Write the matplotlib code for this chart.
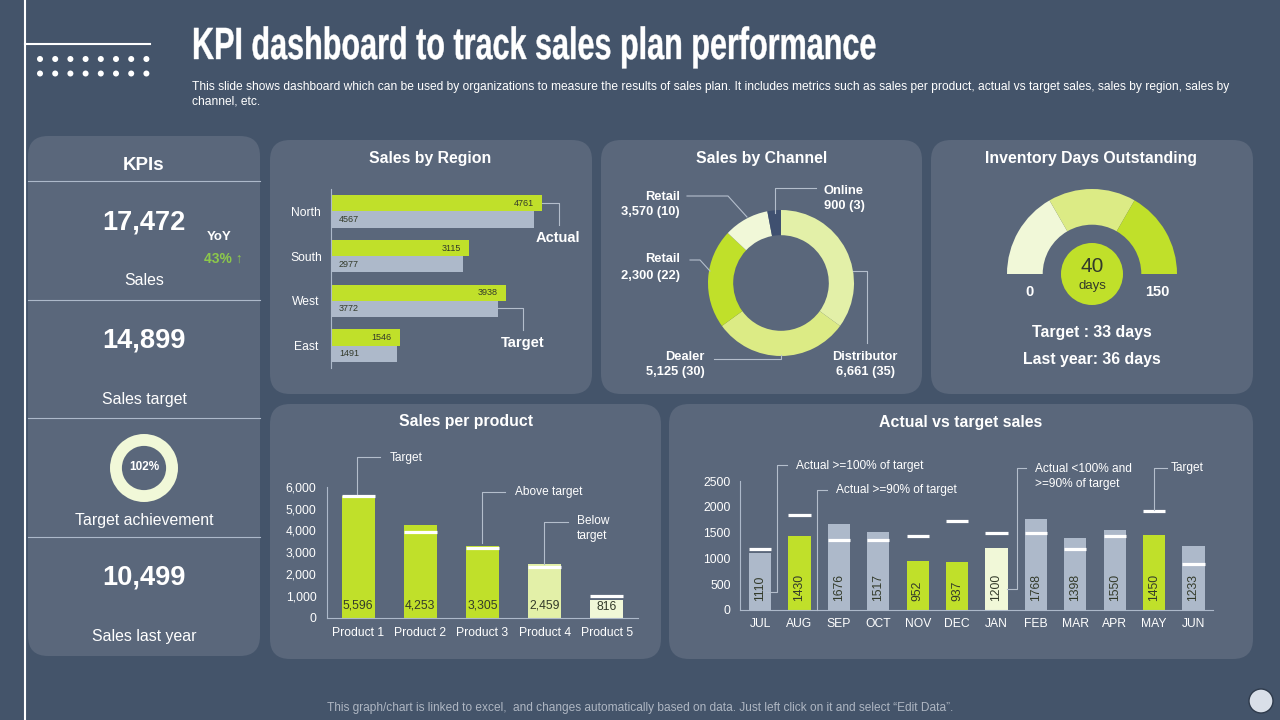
#!/usr/bin/env python3
"""KPI dashboard slide, laid out on a 1280x720 pixel canvas."""

import matplotlib
matplotlib.use("Agg")
import matplotlib.pyplot as plt
from matplotlib.patches import FancyBboxPatch, Circle
from matplotlib.patheffects import AbstractPathEffect
from matplotlib.transforms import Affine2D

BG = "#44546A"
PANEL = "#5A677B"
GREEN = "#C0E02A"
LIME = "#DCEB85"
PALE = "#E3F0A8"
CREAM = "#F1F8D8"
GREY = "#ADB9CA"
LEADER = "#B4BECC"
DARK = "#333A2A"

regions = ["North", "South", "West", "East"]
region_actual = [4761, 3115, 3938, 1546]
region_target = [4567, 2977, 3772, 1491]

channel_shares = [35, 30, 22, 10, 3]
channel_colors = [PALE, LIME, GREEN, CREAM, "#3F5070"]

gauge_segments = [50, 50, 50]

products = ["Product 1", "Product 2", "Product 3", "Product 4", "Product 5"]
product_sales = [5596, 4253, 3305, 2459, 816]
product_target = [5590, 3935, 3215, 2330, 995]
product_colors = [GREEN, GREEN, GREEN, PALE, CREAM]

months = ["JUL", "AUG", "SEP", "OCT", "NOV", "DEC", "JAN", "FEB", "MAR", "APR", "MAY", "JUN"]
month_actual = [1110, 1430, 1676, 1517, 952, 937, 1200, 1768, 1398, 1550, 1450, 1233]
month_target = [1182, 1835, 1350, 1350, 1434, 1725, 1486, 1486, 1176, 1428, 1912, 900]
month_colors = [GREY, GREEN, GREY, GREY, GREEN, GREEN, CREAM, GREY, GREY, GREY, GREEN, GREY]

plt.rcParams["font.family"] = ["Liberation Sans", "DejaVu Sans"]

fig = plt.figure(figsize=(12.8, 7.2), dpi=100, facecolor=BG)


class Squeeze(AbstractPathEffect):
    """Narrow a text horizontally around a pixel x, no condensed display font is installed."""

    def __init__(self, x0, factor, stroke):
        super().__init__()
        self.x0 = x0
        self.factor = factor
        self.stroke = stroke

    def draw_path(self, renderer, gc, tpath, affine, rgbFace=None):
        squeeze = Affine2D().translate(-self.x0, 0).scale(self.factor, 1).translate(self.x0, 0)
        gc0 = renderer.new_gc()
        gc0.copy_properties(gc)
        gc0.set_linewidth(self.stroke)
        gc0.set_foreground(rgbFace)
        renderer.draw_path(gc0, tpath, affine + squeeze, rgbFace)
        gc0.restore()


def px_axes(left, top, width, height, zorder=1):
    """Axes placed by pixel box, y counted from the top of the slide."""
    ax = fig.add_axes((left / 1280, 1 - (top + height) / 720, width / 1280, height / 720), zorder=zorder)
    ax.patch.set_alpha(0)
    return ax


def canvas_axes(zorder):
    ax = px_axes(0, 0, 1280, 720, zorder)
    ax.set_xlim(0, 1280)
    ax.set_ylim(720, 0)
    ax.axis("off")
    return ax


def open_axes(ax):
    ax.spines["top"].set_color("none")
    ax.spines["right"].set_color("none")
    ax.spines["left"].set_color(GREY)
    ax.spines["bottom"].set_color(GREY)
    ax.tick_params(length=0, colors="white", labelsize=8.7)


def ring_axes(cx, cy, r):
    ax = px_axes(cx - r, cy - r, 2 * r, 2 * r)
    return ax


back = canvas_axes(0)
top = canvas_axes(5)


def put(x, y, label, size, color="white", weight="normal", ha="center"):
    # va=center sits a little high against the slide text
    return top.text(x, y + 1.5, label, color=color, fontsize=size, fontweight=weight, ha=ha, va="center")


# slide furniture
back.plot([25, 25], [0, 720], color="white", lw=1.5)
back.plot([25, 150], [43.5, 43.5], color="white", lw=1.5)
for row_y in (59, 73.5):
    for i in range(8):
        back.add_patch(Circle((40 + i * 15.2, row_y), 3, color="white", lw=0))

title = put(192, 46, "KPI dashboard to track sales plan performance", 32.5, weight="bold", ha="left")
title.set_path_effects([Squeeze(192, 0.677, 0.3)])
put(192, 85.5, "This slide shows dashboard which can be used by organizations to measure the results of sales plan. "
    "It includes metrics such as sales per product, actual vs target sales, sales by region, sales by", 8.65, ha="left")
put(192, 99.5, "channel, etc.", 8.65, ha="left")
put(640, 706.5, "This graph/chart is linked to excel,  and changes automatically based on data. "
    "Just left click on it and select “Edit Data”.", 8.6, color="#AEB6C2")
back.add_patch(Circle((1261, 701), 12, facecolor="#D9DFE8", edgecolor="#2F3B4C", lw=1))

# panels
panels = [(28, 136, 232, 520), (270, 140, 322, 254), (601, 140, 321, 254), (931, 140, 322, 254),
          (270, 404, 391, 255), (669, 404, 584, 255)]
for x, y, w, h in panels:
    back.add_patch(FancyBboxPatch((x + 20, y + 20), w - 40, h - 40, boxstyle="round,pad=20,rounding_size=20",
                                  facecolor=PANEL, edgecolor="none"))

panel_titles = [(430, 157, "Sales by Region"), (762, 157, "Sales by Channel"),
                (1091, 157, "Inventory Days Outstanding"), (466, 420, "Sales per product"),
                (961, 421, "Actual vs target sales")]
for x, y, label in panel_titles:
    put(x, y, label, 11.45, weight="bold")

# KPI column
for y in (181, 300, 418, 537):
    back.plot([28, 260], [y, y], color=GREY, lw=0.8)
put(144, 164, "KPIs", 13.5, weight="bold")
for y, label in ((221, "17,472"), (339, "14,899"), (576, "10,499")):
    put(144, y, label, 19.6, weight="bold")
for y, label in ((279, "Sales"), (398, "Sales target"), (519, "Target achievement"), (635, "Sales last year")):
    put(144, y, label, 11.4)
put(219, 236, "YoY", 9.5, weight="bold")
put(223, 257, "43% ↑", 10, color="#8CC84B", weight="bold")

ax = ring_axes(144, 468, 34)
ax.pie([102], colors=[CREAM], radius=1, wedgeprops=dict(width=0.35))
ax.set_xlim(-1, 1)
ax.set_ylim(-1, 1)
put(144, 466, "102%", 8.5, weight="bold")

# sales by region
ax = px_axes(331, 189, 240, 179)
open_axes(ax)
ax.spines["bottom"].set_color("none")
ypos = list(range(len(regions)))
ax.barh([y - 0.18 for y in ypos], region_actual, height=0.365, color=GREEN)
ax.barh([y + 0.18 for y in ypos], region_target, height=0.365, color=GREY)
for y, a, t in zip(ypos, region_actual, region_target):
    ax.text(a - 190, y - 0.18, str(a), color=DARK, fontsize=6.5, ha="right", va="center")
    ax.text(180, y + 0.18, str(t), color=DARK, fontsize=6.5, ha="left", va="center")
ax.set_xlim(0, 5405)
ax.set_ylim(3.5, -0.5)
ax.set_yticks(ypos, regions, ha="center")
ax.set_xticks([])
ax.tick_params(axis="y", pad=18)

# sales by channel
ax = ring_axes(781, 283, 73)
ax.pie(channel_shares, colors=channel_colors, startangle=90, counterclock=False, radius=1,
       wedgeprops=dict(width=0.345))
ax.set_xlim(-1, 1)
ax.set_ylim(-1, 1)

# inventory gauge
ax = ring_axes(1092, 274, 85)
ax.pie(gauge_segments + [sum(gauge_segments)], colors=[CREAM, LIME, GREEN, "none"], startangle=180,
       counterclock=False, radius=1, wedgeprops=dict(width=0.42))
ax.set_xlim(-1, 1)
ax.set_ylim(-1, 1)
top.add_patch(Circle((1092, 274), 31, color=GREEN, lw=0))
put(1092, 265, "40", 15, color=DARK)
put(1092, 284, "days", 9.5, color=DARK)
put(1029, 290, "0", 10.5, weight="bold")
put(1157, 290, "150", 10.5, weight="bold")
put(1092, 331, "Target : 33 days", 11.4, weight="bold")
put(1092, 358, "Last year: 36 days", 11.4, weight="bold")

# sales per product
ax = px_axes(327, 487, 311, 130.5)
open_axes(ax)
xpos = list(range(len(products)))
ax.bar(xpos, product_sales, width=0.53, color=product_colors)
ax.hlines(product_target, [x - 0.265 for x in xpos], [x + 0.265 for x in xpos], color="white", lw=2.3)
for x, v in zip(xpos, product_sales):
    ax.text(x, 470 if v < 1000 else 560, f"{v:,}", color=DARK, fontsize=8.7, ha="center", va="center")
ax.set_xlim(-0.5, 4.5)
ax.set_ylim(0, 6000)
ax.set_xticks(xpos, products)
ax.set_yticks(range(0, 7000, 1000), [f"{v:,}" for v in range(0, 7000, 1000)])
ax.tick_params(axis="x", pad=7)
ax.tick_params(axis="y", pad=7.5)

# actual vs target
ax = px_axes(740.4, 481, 472.8, 129)
open_axes(ax)
xpos = list(range(len(months)))
ax.bar(xpos, month_actual, width=0.56, color=month_colors)
ax.hlines(month_target, [x - 0.28 for x in xpos], [x + 0.28 for x in xpos], color="white", lw=2.3)
for x, v in zip(xpos, month_actual):
    ax.text(x, 175, str(v), color=DARK, fontsize=8.7, rotation=90, ha="center", va="bottom")
ax.set_xlim(-0.5, 11.5)
ax.set_ylim(0, 2500)
ax.set_xticks(xpos, months)
ax.set_yticks(range(0, 3000, 500))
ax.tick_params(axis="x", pad=6)
ax.tick_params(axis="y", pad=7)

# leader lines and callouts
leaders = [
    [(542, 203), (559, 203), (559, 225)],
    [(498, 308), (523, 308), (523, 330)],
    [(687, 196), (728, 196), (747, 217)],
    [(816, 188), (775, 188), (775, 213)],
    [(690, 260), (700, 260), (710, 271)],
    [(853, 271), (867, 271), (867, 343)],
    [(714, 359), (781, 359), (781, 355)],
    [(357, 494), (357, 457), (380, 457)],
    [(482, 543), (482, 492), (505, 492)],
    [(544, 564), (544, 522), (568, 522)],
    [(766, 592), (777, 592), (777, 465), (787, 465)],
    [(817, 610), (817, 490), (827, 490)],
    [(1007, 589), (1017, 589), (1017, 468), (1026, 468)],
    [(1154, 510), (1154, 468), (1167, 468)],
]
for pts in leaders:
    top.plot([p[0] for p in pts], [p[1] for p in pts], color=LEADER, lw=0.8)

put(558, 236, "Actual", 10.5, weight="bold")
put(523, 341, "Target", 10.5, weight="bold")

for x, y, ha, label in ((680, 195, "right", "Retail"), (680, 211, "right", "3,570 (10)"),
                        (680, 258, "right", "Retail"), (680, 274, "right", "2,300 (22)"),
                        (824, 189, "left", "Online"), (824, 205, "left", "900 (3)"),
                        (705, 355, "right", "Dealer"), (705, 371, "right", "5,125 (30)"),
                        (865, 355, "center", "Distributor"), (865, 371, "center", "6,661 (35)")):
    put(x, y, label, 9.3, weight="bold", ha=ha)

for x, y, label in ((390, 456, "Target"), (515, 490.5, "Above target"), (577, 520, "Below"), (577, 534, "target"),
                    (796, 464, "Actual >=100% of target"), (836, 489, "Actual >=90% of target"),
                    (1035, 468, "Actual <100% and"), (1035, 482, ">=90% of target"), (1171, 467, "Target")):
    put(x, y, label, 8.6, ha="left")

fig.savefig("out.png", dpi=100, facecolor=BG)
